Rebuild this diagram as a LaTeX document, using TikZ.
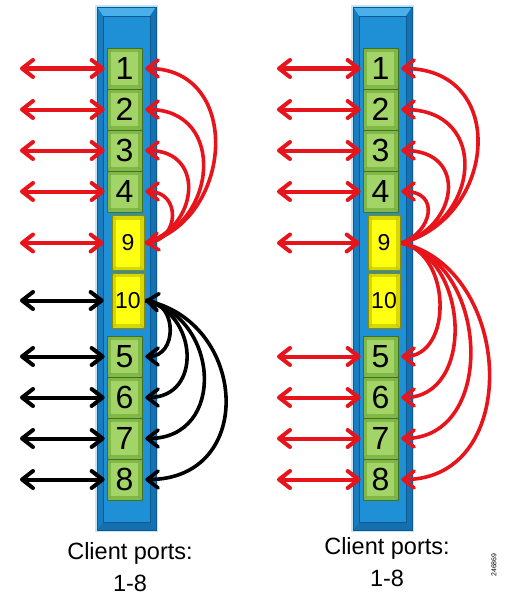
\documentclass[tikz,border=0pt]{standalone}
\usepackage{fontspec}
\setmainfont{Liberation Sans}
\usetikzlibrary{arrows.meta}
\definecolor{barblue}{HTML}{1F8FD6}
\definecolor{bardark}{HTML}{0C5A94}
\definecolor{barlight}{HTML}{4AB0EA}
\definecolor{barglow}{HTML}{C4E6F7}
\definecolor{gfill}{HTML}{82B845}
\definecolor{glight}{HTML}{A3D468}
\definecolor{gbord}{HTML}{3F7322}
\definecolor{yfill}{HTML}{D8D800}
\definecolor{ylight}{HTML}{FFFF10}
\definecolor{ybord}{HTML}{8A8A00}
\definecolor{arred}{HTML}{E8141B}
\tikzset{
  portbox/.style={draw=#1bord, fill=#1fill, line width=0.7pt, inner sep=0pt,
    path picture={
      \fill[#1light] ([shift={(4pt,-4pt)}]path picture bounding box.north west)
        rectangle ([shift={(-4pt,4pt)}]path picture bounding box.south east);
      \draw[#1bord!70, line width=0.4pt]
        (path picture bounding box.north west) -- ++(4pt,-4pt)
        (path picture bounding box.north east) -- ++(-4pt,-4pt)
        (path picture bounding box.south west) -- ++(4pt,4pt)
        (path picture bounding box.south east) -- ++(-4pt,4pt);
    }},
  gbox/.style={portbox=g, minimum width=35pt, minimum height=41pt,
    font=\fontsize{32}{33}\selectfont},
  ybox/.style={portbox=y, minimum width=32pt, minimum height=55pt,
    font=\fontsize{23}{24}\selectfont},
  tipx/.tip={Straight Barb[length=11pt, width=17pt, line join=round, line cap=round]},
  harrow/.style={line width=4pt, {tipx}-{tipx}},
  arcboth/.style={line width=3.6pt, {tipx}-{tipx}},
  arcone/.style={line width=3.6pt, -{tipx}},
  lbl/.style={font=\fontsize{23.5}{27}\selectfont, inner sep=0pt}
}
\begin{document}
\begin{tikzpicture}[x=1pt,y=-1pt]
\useasboundingbox (0,0) rectangle (505,602);
% bars
\foreach \o in {0,256} {
  \fill[barglow] (\o+95,5) rectangle (\o+158,532);
  \fill[barblue] (\o+97,7) rectangle (\o+156,530);
  \fill[barlight] (\o+97,7) -- (\o+156,7) -- (\o+150,16) -- (\o+103,16) -- cycle;
  \fill[bardark!60!barblue] (\o+97,530) -- (\o+156,530) -- (\o+150,522) -- (\o+103,522) -- cycle;
  \fill[bardark!35!barblue] (\o+97,7) -- (\o+103,16) -- (\o+103,522) -- (\o+97,530) -- cycle;
  \fill[bardark!55!barblue] (\o+156,7) -- (\o+150,16) -- (\o+150,522) -- (\o+156,530) -- cycle;
  \draw[bardark, line width=0.7pt] (\o+103,16) rectangle (\o+150,522);
  \draw[bardark, line width=0.8pt] (\o+97,7) rectangle (\o+156,530);
}
% left column boxes
\node[gbox] (L1) at (124.5,68.5) {1};
\node[gbox] (L2) at (124.5,109.5) {2};
\node[gbox] (L3) at (124.5,150.5) {3};
\node[gbox] (L4) at (124.5,191.5) {4};
\node[ybox] (L9) at (128,243) {9};
\node[ybox] (L10) at (128,300.5) {10};
\node[gbox] (L5) at (124.5,356.5) {5};
\node[gbox] (L6) at (124.5,397.5) {6};
\node[gbox] (L7) at (124.5,438.5) {7};
\node[gbox] (L8) at (124.5,479.5) {8};
% right column boxes
\node[gbox] (R1) at (380.5,68.5) {1};
\node[gbox] (R2) at (380.5,109.5) {2};
\node[gbox] (R3) at (380.5,150.5) {3};
\node[gbox] (R4) at (380.5,191.5) {4};
\node[ybox] (R9) at (384,243) {9};
\node[ybox] (R10) at (384,300.5) {10};
\node[gbox] (R5) at (380.5,356.5) {5};
\node[gbox] (R6) at (380.5,397.5) {6};
\node[gbox] (R7) at (380.5,438.5) {7};
\node[gbox] (R8) at (380.5,479.5) {8};
% horizontal client arrows
\foreach \n in {1,2,3,4,5,6,7,8} {
  \coordinate (lf\n) at (20,0 |- L\n.west);
  \coordinate (rf\n) at (277,0 |- R\n.west);
}
\coordinate (lf9) at (20,0 |- L9.west);
\coordinate (lf10) at (20,0 |- L10.west);
\coordinate (rf9) at (277,0 |- R9.west);
\foreach \n in {1,2,3,4} {
  \draw[harrow, arred, shorten >=2pt] (lf\n) -- (L\n.west);
  \draw[harrow, arred, shorten >=2pt] (rf\n) -- (R\n.west);
}
\foreach \n in {5,6,7,8} {
  \draw[harrow, black, shorten >=2pt] (lf\n) -- (L\n.west);
  \draw[harrow, arred, shorten >=2pt] (rf\n) -- (R\n.west);
}
\draw[harrow, arred, shorten >=8pt] (lf9) -- (L9.west);
\draw[harrow, black, shorten >=8pt] (lf10) -- (L10.west);
\draw[harrow, arred, shorten >=8pt] (rf9) -- (R9.west);
% left column arcs: 9 -> 1..4 (red)
\draw[arcone, arred] ([xshift=1pt]L9.east) .. controls +(88,-22) and +(98,0) .. ([xshift=3pt]L1.east);
\draw[arcone, arred] ([xshift=1pt]L9.east) .. controls +(72,-18) and +(82,0) .. ([xshift=3pt]L2.east);
\draw[arcone, arred] ([xshift=1pt]L9.east) .. controls +(52,-14) and +(62,0) .. ([xshift=3pt]L3.east);
\draw[arcboth, arred] ([xshift=1pt]L9.east) .. controls +(34,-4) and +(36,0) .. ([xshift=3pt]L4.east);
% left column arcs: 10 -> 5..8 (black)
\draw[arcboth, black] ([xshift=1pt]L10.east) .. controls +(32,4) and +(32,0) .. ([xshift=3pt]L5.east);
\draw[arcone, black] ([xshift=1pt]L10.east) .. controls +(52,12) and +(58,0) .. ([xshift=3pt]L6.east);
\draw[arcone, black] ([xshift=1pt]L10.east) .. controls +(74,16) and +(82,0) .. ([xshift=3pt]L7.east);
\draw[arcone, black] ([xshift=1pt]L10.east) .. controls +(102,20) and +(112,0) .. ([xshift=3pt]L8.east);
% right column arcs: 9 -> 1..8 (red)
\draw[arcone, arred] ([xshift=1pt]R9.east) .. controls +(95,-25) and +(108,0) .. ([xshift=3pt]R1.east);
\draw[arcone, arred] ([xshift=1pt]R9.east) .. controls +(78,-20) and +(90,0) .. ([xshift=3pt]R2.east);
\draw[arcone, arred] ([xshift=1pt]R9.east) .. controls +(56,-15) and +(68,0) .. ([xshift=3pt]R3.east);
\draw[arcone, arred] ([xshift=1pt]R9.east) .. controls +(30,-10) and +(40,0) .. ([xshift=3pt]R4.east);
\draw[arcone, arred] ([xshift=1pt]R9.east) .. controls +(50,10) and +(52,0) .. ([xshift=3pt]R5.east);
\draw[arcone, arred] ([xshift=1pt]R9.east) .. controls +(68,15) and +(74,0) .. ([xshift=3pt]R6.east);
\draw[arcone, arred] ([xshift=1pt]R9.east) .. controls +(88,20) and +(96,0) .. ([xshift=3pt]R7.east);
\draw[arcone, arred] ([xshift=1pt]R9.east) .. controls +(112,25) and +(122,0) .. ([xshift=3pt]R8.east);
% labels
\node[lbl] (cl1) at (130,553) {Client ports:};
\node[lbl] (cl2) at (130,583) {1-8};
\node[lbl] (cr1) at (387,548) {Client ports:};
\node[lbl] (cr2) at (387,578) {1-8};
\node[font=\fontsize{7}{8}\selectfont, rotate=90, inner sep=0pt] (fig) at (494,565) {246869};
\end{tikzpicture}
\end{document}
